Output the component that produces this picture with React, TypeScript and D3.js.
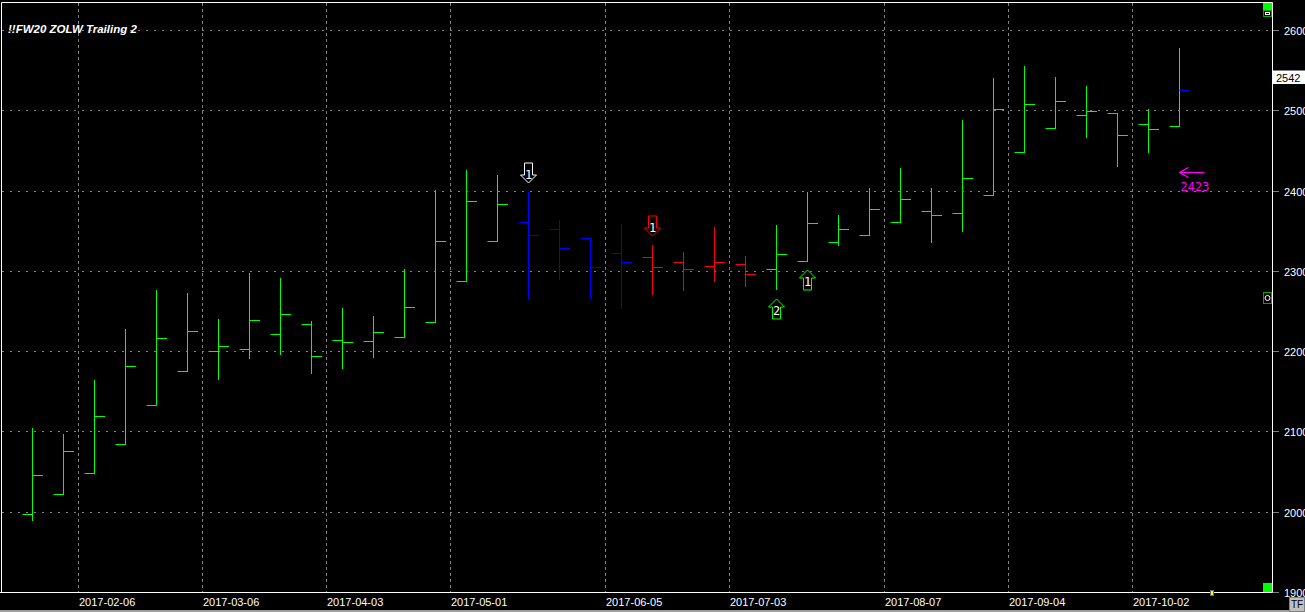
import React from "react";
import * as d3 from "d3";

const W = 1305;
const H = 612;

// weekly bars, Monday dates
const weeks: Date[] = d3.timeMonday.range(new Date(2017, 0, 23), new Date(2017, 9, 10));

const opens = [1997.5, 2022.4, 2048.6, 2084.7, 2133.3, 2175.7, 2200.6, 2203.1, 2221.8, 2234.2,
  2214.3, 2213, 2218, 2236.7, 2287.8, 2337.6, 2361.3, 2352.6, 2341.4, 2322.7,
  2317.7, 2311.5, 2306.5, 2309, 2302.8, 2312.7, 2336.4, 2345.1, 2361.3, 2375,
  2372.5, 2394.9, 2448.5, 2478.4, 2494.6, 2497.1, 2483.4, 2480.9];
const highs = [2104.7, 2096.3, 2163.6, 2227.1, 2275.7, 2272, 2240.5, 2296.9, 2290.7, 2237.1,
  2254.2, 2243.3, 2301.9, 2400.3, 2425.2, 2419, 2397.8, 2362.9, 2341.4, 2357.9,
  2331.8, 2323, 2354.2, 2318.1, 2356.7, 2397.8, 2369.2, 2402.8, 2427.7, 2402.8,
  2487.5, 2539.8, 2554.8, 2541.1, 2529.9, 2497.1, 2501.2, 2577.2];
const lows = [1989.6, 2022.4, 2048.6, 2084.7, 2133.3, 2175.7, 2165.7, 2191.4, 2196, 2172.3,
  2178.9, 2192.6, 2218, 2236.7, 2287.8, 2337.6, 2264.9, 2289.8, 2265.8, 2253.7,
  2270.7, 2276.1, 2287.3, 2281.1, 2277.3, 2312.7, 2331.8, 2345.1, 2361.3, 2336.4,
  2349.6, 2394.9, 2448.5, 2478.4, 2466.7, 2430.6, 2448, 2480.9];
const closes = [2046.1, 2076, 2119.6, 2181.9, 2216.8, 2225.5, 2206.8, 2239.2, 2246.7, 2194.4,
  2211.8, 2224.3, 2255.4, 2337.6, 2387.5, 2383.7, 2345.1, 2328.9, 2305.2, 2311.5,
  2305.2, 2302.8, 2311.5, 2296.5, 2321.4, 2360.1, 2352.6, 2377.5, 2390, 2370,
  2416.1, 2502.1, 2508.3, 2512, 2499.6, 2469.7, 2477.2, 2525.8];
// trend state per bar: g = green, b = blue, r = red
const trend = "gggggggggggggggg" + "bbbb" + "rrrr" + "gggggggggggggg";

const yTicks = [1900, 2000, 2100, 2200, 2300, 2400, 2500, 2600];
const xLabels = ["2017-02-06", "2017-03-06", "2017-04-03", "2017-05-01", "2017-06-05",
  "2017-07-03", "2017-08-07", "2017-09-04", "2017-10-02"];

const signals = [
  { idx: 16, dir: "down", label: "1", color: "#ffffff" },
  { idx: 20, dir: "down", label: "1", color: "#ff0000" },
  { idx: 24, dir: "up", label: "2", color: "#00ff00" },
  { idx: 25, dir: "up", label: "1", color: "#00ff00" },
];
const stopLevel = 2423;
const lastPrice = 2542;
const title = "!!FW20 ZOLW Trailing 2";

const colorOf: Record<string, string> = { g: "#00ff00", b: "#0000ff", r: "#ff0000" };

export default function App() {
  const y = d3.scaleLinear().domain([1900, 2600]).range([592.3, 30.7]);
  const xb = d3.scaleBand<number>().domain(weeks.map((d) => +d)).range([16.8, 16.8 + 31 * weeks.length]).padding(0);
  const fmt = d3.timeFormat("%Y-%m-%d");
  const py = (v: number) => Math.round(y(v) - 0.5) + 0.5;
  const cx = (i: number) => Math.floor(xb(+weeks[i])! + 15.5) + 0.5;
  const gx = (s: string) => {
    const d = weeks.find((w) => fmt(w) === s)!;
    return Math.floor(xb(+d)!) + 0.5;
  };

  const arrowPath = (x: number, tipY: number, dir: string) => {
    if (dir === "down") {
      const t = tipY - 20;
      return `M${x - 4},${t}L${x + 4},${t}L${x + 4},${t + 12}L${x + 8},${t + 12}L${x},${tipY}L${x - 8},${t + 12}L${x - 4},${t + 12}Z`;
    }
    const b = tipY + 20;
    return `M${x - 4},${b}L${x + 4},${b}L${x + 4},${b - 12}L${x + 8},${b - 12}L${x},${tipY}L${x - 8},${b - 12}L${x - 4},${b - 12}Z`;
  };

  const sy = py(stopLevel);
  const lastX = cx(weeks.length - 1);

  return (
    <svg width={W} height={H} style={{ position: "absolute", left: 0, top: 0, display: "block", background: "#000" }}>
      <rect x={0} y={0} width={W} height={H} fill="#000" />
      {/* grid */}
      {yTicks.map((t) => (
        <line key={"h" + t} x1={2} x2={1272} y1={py(t)} y2={py(t)} stroke="#808080" strokeDasharray="2,6" />
      ))}
      {xLabels.map((s) => (
        <line key={"v" + s} x1={gx(s)} x2={gx(s)} y1={3} y2={592} stroke="#808080" strokeDasharray="3,3" />
      ))}
      {/* frame */}
      <line x1={1.5} x2={1.5} y1={2.5} y2={592.5} stroke="#fff" />
      <line x1={1.5} x2={1272.5} y1={2.5} y2={2.5} stroke="#fff" />
      <line x1={1272.5} x2={1272.5} y1={2.5} y2={592.5} stroke="#fff" />
      <line x1={0} x2={1272.5} y1={592.5} y2={592.5} stroke="#fff" />
      {/* y axis */}
      {yTicks.map((t) => (
        <g key={"yt" + t}>
          <line x1={1273} x2={1279} y1={py(t)} y2={py(t)} stroke="#808080" />
          <text x={1284} y={py(t) + 4} fill="#fff" fontFamily="Arial, 'Liberation Sans', sans-serif" fontSize={11}>{t}</text>
        </g>
      ))}
      {/* x labels */}
      {xLabels.map((s) => (
        <text key={"xl" + s} x={gx(s) + 0.5} y={606} fill="#fff" fontFamily="Arial, 'Liberation Sans', sans-serif" fontSize={11}>{s}</text>
      ))}
      {/* bars */}
      {weeks.map((w, i) => {
        const c = colorOf[trend[i]];
        const x = cx(i);
        const last = i === weeks.length - 1;
        return (
          <g key={"b" + i} stroke={c} strokeWidth={1}>
            <line x1={x} x2={x} y1={py(highs[i]) - 0.5} y2={py(lows[i]) + 0.5} />
            <line x1={x - 10} x2={x} y1={py(opens[i])} y2={py(opens[i])} />
            <line x1={x} x2={x + 10.5} y1={py(closes[i])} y2={py(closes[i])} stroke={last ? "#0000ff" : c} />
          </g>
        );
      })}
      {/* signals */}
      {signals.map((s, k) => {
        const x = cx(s.idx);
        const tip = s.dir === "down" ? Math.round(y(highs[s.idx])) - 10 : Math.round(y(lows[s.idx])) + 9;
        const ty = s.dir === "down" ? tip - 4 : tip + 16;
        return (
          <g key={"s" + k}>
            <path d={arrowPath(x, tip, s.dir)} fill="#000" stroke={s.color} strokeWidth={1} />
            <text x={x} y={ty} textAnchor="middle" fill="#fff" fontFamily="'DejaVu Sans Mono', monospace" fontSize={12}>{s.label}</text>
          </g>
        );
      })}
      {/* stop arrow */}
      <g stroke="#ff00ff" strokeWidth={1.3} fill="none">
        <line x1={lastX} x2={lastX + 25} y1={sy} y2={sy} />
        <line x1={lastX} x2={lastX + 9} y1={sy} y2={sy - 5} />
        <line x1={lastX} x2={lastX + 9} y1={sy} y2={sy + 5} />
      </g>
      <text x={lastX + 1} y={sy + 18.5} fill="#ff00ff" fontFamily="'DejaVu Sans Mono', monospace" fontSize={12}>{stopLevel}</text>
      {/* last price label */}
      <rect x={1273} y={py(lastPrice) - 7} width={32} height={13.5} fill="#fff" />
      <text x={1276} y={py(lastPrice) + 4} fill="#000" fontFamily="Arial, 'Liberation Sans', sans-serif" fontSize={11}>{lastPrice}</text>
      {/* title */}
      <text x={8} y={33} fill="#fff" fontFamily="Arial, 'Liberation Sans', sans-serif" fontSize={11.5} fontWeight="bold" fontStyle="italic">{title}</text>
      {/* widgets */}
      <rect x={1263} y={3} width={9} height={7} fill="#00ff00" />
      <rect x={1263.5} y={10.5} width={8} height={6} fill="#000" stroke="#00aa00" />
      <rect x={1265.5} y={12.5} width={4} height={2} fill="none" stroke="#fff" />
      <rect x={1263.5} y={292.5} width={8} height={11} fill="#000" stroke="#00aa00" />
      <circle cx={1267.5} cy={298} r={2.5} fill="none" stroke="#fff" />
      <rect x={1263} y={583} width={9} height={9} fill="#00ff00" />
      <rect x={1210.5} y={590.5} width={3} height={5} fill="#ffff00" stroke="#666" />
      <rect x={1289.5} y={597.5} width={15} height={14} fill="#c0c0c0" stroke="#808080" />
      <text x={1297} y={608} textAnchor="middle" fill="#000" fontFamily="Arial, 'Liberation Sans', sans-serif" fontSize={10}>TF</text>
      <rect x={0} y={610} width={1289} height={2} fill="#a0a0a0" />
    </svg>
  );
}
